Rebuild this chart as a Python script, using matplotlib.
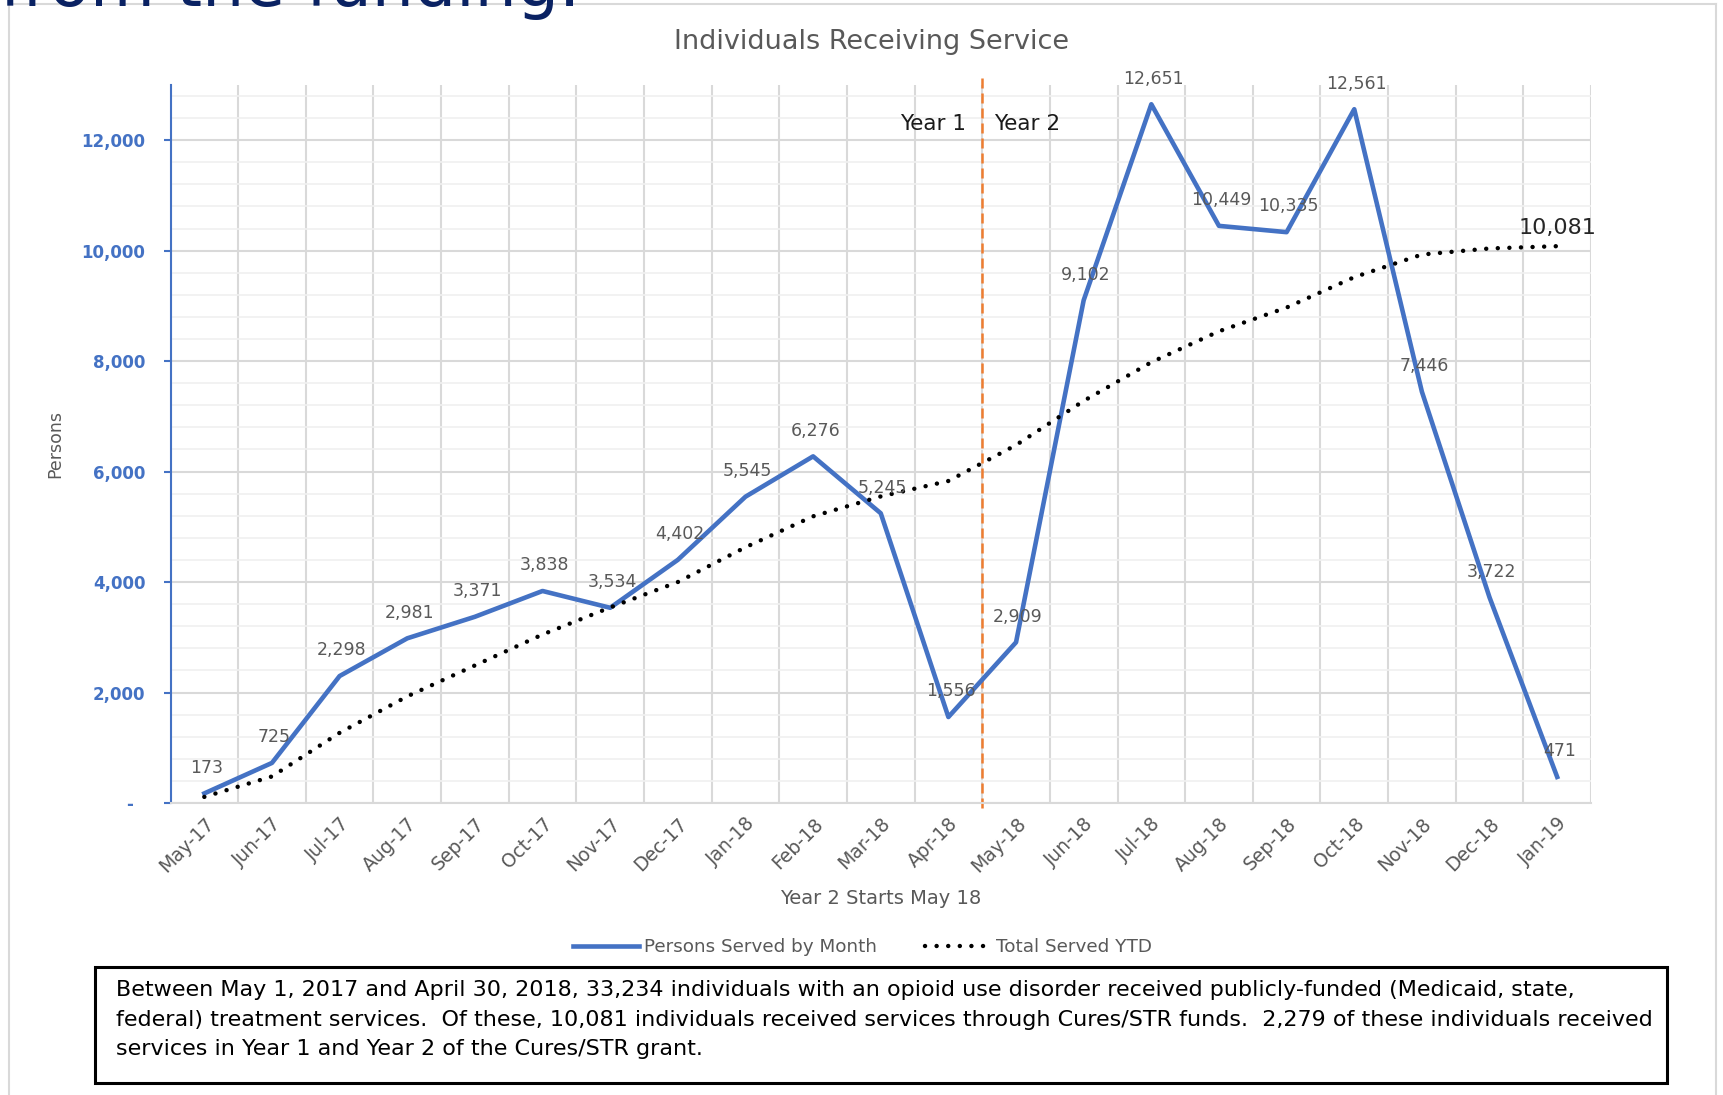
#!/usr/bin/env python

import numpy as np
import matplotlib
matplotlib.use('Agg')
import matplotlib.pyplot as plt
from matplotlib.lines import Line2D
from matplotlib.patches import Rectangle
from matplotlib.ticker import MultipleLocator

months = ['May-17', 'Jun-17', 'Jul-17', 'Aug-17', 'Sep-17', 'Oct-17', 'Nov-17',
          'Dec-17', 'Jan-18', 'Feb-18', 'Mar-18', 'Apr-18', 'May-18', 'Jun-18',
          'Jul-18', 'Aug-18', 'Sep-18', 'Oct-18', 'Nov-18', 'Dec-18', 'Jan-19']

served_by_month = [173, 725, 2298, 2981, 3371, 3838, 3534, 4402, 5545, 6276, 5245,
                   1556, 2909, 9102, 12651, 10449, 10335, 12561, 7446, 3722, 471]

# only the last value is labelled
total_ytd = [110, 480, 1270, 1930, 2490, 3050, 3540, 4000, 4630, 5190, 5550,
             5830, 6480, 7280, 7980, 8540, 8970, 9520, 9930, 10040, 10081]

y_ticks = [0, 2000, 4000, 6000, 8000, 10000, 12000]

note_lines = [
    "Between May 1, 2017 and April 30, 2018, 33,234 individuals with an opioid use disorder received publicly-funded (Medicaid, state,",
    "federal) treatment services.  Of these, 10,081 individuals received services through Cures/STR funds.  2,279 of these individuals received",
    "services in Year 1 and Year 2 of the Cures/STR grant.",
]

BLUE = '#4472C4'
GRAY = '#595959'
GRID = '#d9d9d9'

W, H = 1723, 1095

fig = plt.figure(figsize=(W / 100, H / 100), dpi=100)

# slide frame
border = dict(color='#d9d9d9', lw=1.5)
fig.add_artist(Line2D([9 / W, 9 / W], [0, 1 - 4 / H], **border))
fig.add_artist(Line2D([9 / W, 1716 / W], [1 - 4 / H, 1 - 4 / H], **border))
fig.add_artist(Line2D([1716 / W, 1716 / W], [0, 1 - 4 / H], **border))

# slide heading, cut off at the top
fig.text(580 / W, 1 - 6 / H, 'from the funding.', fontsize=48, color='#0a2263',
         ha='right', va='baseline')

ax = fig.add_axes([170.5 / W, 0.2667, (1591 - 170.5) / W, 0.6557])
x = np.arange(len(months))

ax.set_xlim(-0.5, len(months) - 0.5)
ax.set_ylim(0, 13000)

ax.set_xticks(x)
ax.set_xticklabels(months, rotation=45, ha='right', rotation_mode='anchor')
ax.set_xticks(np.arange(-0.5, len(months), 1), minor=True)
ax.set_yticks(y_ticks)
ax.set_yticklabels(['-  '] + ['{:,}'.format(v) for v in y_ticks[1:]],
                   fontweight='bold')
ax.yaxis.set_minor_locator(MultipleLocator(400))

ax.grid(axis='x', which='minor', color=GRID, lw=1.5)
ax.grid(axis='y', which='major', color=GRID, lw=1.5)
ax.grid(axis='y', which='minor', color='#f0f0f0', lw=1.2)
ax.set_axisbelow(True)

ax.tick_params(axis='x', which='both', length=0, pad=8, labelsize=13.5,
               labelcolor=GRAY)
ax.tick_params(axis='y', which='major', length=5, width=1.5, color=BLUE,
               pad=13, labelsize=12, labelcolor=BLUE)
ax.tick_params(axis='y', which='minor', length=0)

for s in ['top', 'right']:
    ax.spines[s].set_visible(False)
ax.spines['left'].set_color(BLUE)
ax.spines['left'].set_linewidth(1.5)
ax.spines['bottom'].set_color(GRID)
ax.spines['bottom'].set_linewidth(1.5)

dots = (0, (0.01, 2.6))
ax.plot(x, served_by_month, color=BLUE, lw=3.3, zorder=3)
ax.plot(x, total_ytd, color='black', lw=3.2, linestyle=dots,
        dash_capstyle='round', zorder=4)

for xi, v in zip(x, served_by_month):
    ax.annotate('{:,}'.format(v), (xi, v), xytext=(1.5, 18.5),
                textcoords='offset points', ha='center', va='center',
                fontsize=12.5, color=GRAY, zorder=5)

ax.annotate('{:,}'.format(total_ytd[-1]), (x[-1], total_ytd[-1]), xytext=(0, 13),
            textcoords='offset points', ha='center', va='center',
            fontsize=16, color='#262626', zorder=5)

# start of year 2
ax.axvline(11.5, ymin=-0.007, ymax=1.014, color='#ED7D31', lw=1.8,
           ls=(0, (4, 2)), clip_on=False, zorder=2.5)
ax.annotate('Year 1', (11.5, 12300), xytext=(-11.5, 0), textcoords='offset points',
            ha='right', va='center', fontsize=15.5, color='#1a1a1a')
ax.annotate('Year 2', (11.5, 12300), xytext=(8.6, 0), textcoords='offset points',
            ha='left', va='center', fontsize=15.5, color='#1a1a1a')

fig.text(872 / W, 1 - 42 / H, 'Individuals Receiving Service', fontsize=19.5,
         color=GRAY, ha='center', va='center')
fig.text(55 / W, 1 - 444 / H, 'Persons', fontsize=12.5, color=GRAY,
         rotation=90, ha='center', va='center')
fig.text(881 / W, 1 - 898 / H, 'Year 2 Starts May 18', fontsize=14, color=GRAY,
         ha='center', va='center')

handles = [Line2D([], [], color=BLUE, lw=3.3),
           Line2D([], [], color='black', lw=3.2, linestyle=dots,
                  dash_capstyle='round')]
fig.legend(handles, ['Persons Served by Month', 'Total Served YTD'], loc='center',
           bbox_to_anchor=(0.5006, 1 - 947 / H), ncol=2, frameon=False,
           fontsize=13.2, handlelength=3.6, handletextpad=0.3, columnspacing=2.6,
           labelcolor=GRAY)

# note box under the chart
fig.add_artist(Rectangle((95 / W, 1 - 1083 / H), (1667 - 95) / W, (1083 - 967) / H,
                         transform=fig.transFigure, fill=False, ec='black', lw=2.2))
for i, line in enumerate(note_lines):
    fig.text(116 / W, 1 - (990 + 29.5 * i) / H, line, fontsize=16,
             color='black', ha='left', va='center')

fig.savefig('out.png', dpi=100)
